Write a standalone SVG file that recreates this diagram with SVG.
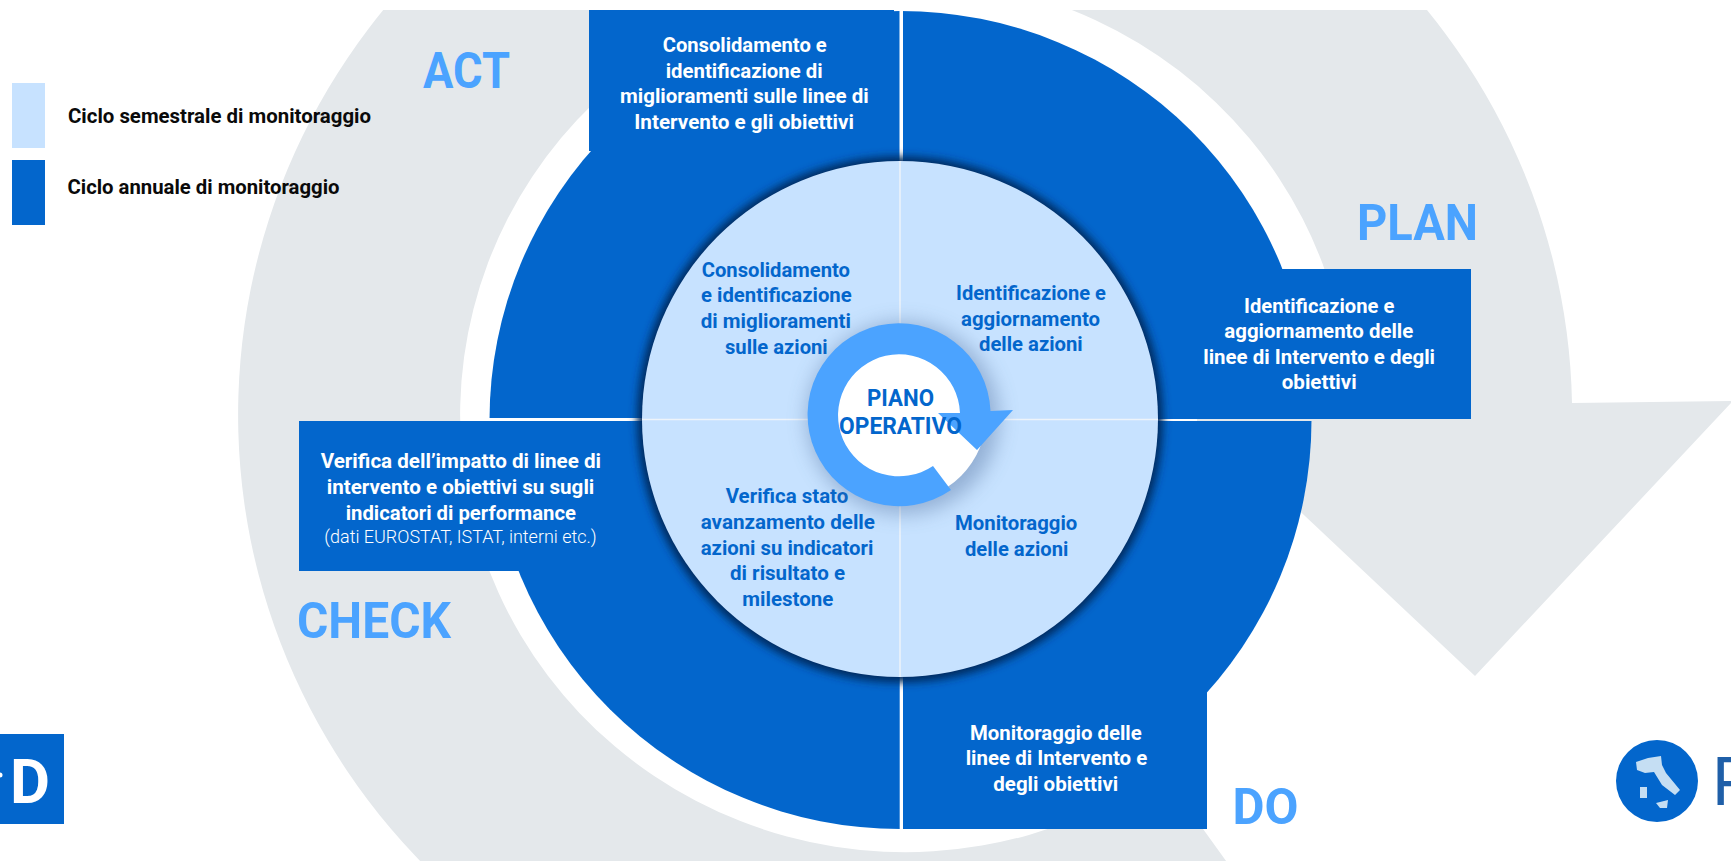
<svg xmlns="http://www.w3.org/2000/svg" width="1731" height="861" viewBox="0 0 1731 861">
<style>
text{font-family:"Roboto","Liberation Sans",sans-serif;font-weight:700;font-size:20.5px}
.w{fill:#fff}
.b{fill:#0366cc}
.k{fill:#0a0a0a;font-size:19.5px}
.h{fill:#4ba3ff;font-size:50.5px}
.l{fill:#fff;font-weight:300;font-size:18px}
.dark{fill:#0366cc}
.gap{fill:#fff}
</style>
<defs>
<clipPath id="page"><rect x="0" y="10" width="1731" height="851"/></clipPath>
<filter id="edge" x="-10%" y="-10%" width="120%" height="120%"><feGaussianBlur stdDeviation="4"/></filter>
<filter id="soft" x="-40%" y="-40%" width="180%" height="180%"><feGaussianBlur stdDeviation="10"/></filter>
</defs>
<rect width="1731" height="861" fill="#fff"/>
<g id="gray-cycle-arrow" clip-path="url(#page)">
<path fill="#e4e8eb" d="M1288,947 A667,650 0 1 1 1572,403 L1731,401 L1731,403 L1475,676 L1203,420 L1197,405 L1350,405 A445,437 0 1 0 1162,772 Z"/>
</g>
<g id="legend">
<rect x="12" y="83" width="33" height="65" fill="#c7e2ff"/>
<rect x="12" y="160" width="33" height="65" class="dark"/>
<text class="k" x="68" y="122.7" textLength="303" lengthAdjust="spacingAndGlyphs">Ciclo semestrale di monitoraggio</text>
<text class="k" x="67.5" y="194.3" textLength="272" lengthAdjust="spacingAndGlyphs">Ciclo annuale di monitoraggio</text>
</g>
<g id="outer-ring">
<ellipse cx="900.5" cy="420" rx="411" ry="409" class="dark"/>
<rect x="589" y="10" width="305" height="141" class="dark"/>
<rect x="1270" y="269" width="201" height="150" class="dark"/>
<rect x="903" y="690" width="304" height="139" class="dark"/>
<rect x="299" y="421" width="230" height="150" class="dark"/>
<rect x="899.5" y="10" width="3.5" height="152" class="gap"/>
<rect x="899.7" y="676" width="3.3" height="154" class="gap"/>
<rect x="489" y="418" width="155" height="3" class="gap"/>
<rect x="1156" y="419" width="41" height="2" class="gap"/>
<rect x="1197" y="419" width="116" height="2" fill="#e4e8eb"/>
</g>
<g id="inner-disc">
<circle cx="900" cy="419.5" r="263" fill="#002c5e" filter="url(#edge)"/>
<circle cx="900" cy="419" r="258" fill="#c7e2ff"/>
<path d="M900,161V677M642,419.5H1158" stroke="#eef4fa" stroke-width="1.5" fill="none"/>
</g>
<g id="act">
<text class="h" x="423" y="88.4" textLength="87" lengthAdjust="spacingAndGlyphs">ACT</text>
<text class="w" x="662.7" y="51.7" textLength="164" lengthAdjust="spacingAndGlyphs">Consolidamento e</text>
<text class="w" x="665.7" y="78.3" textLength="157" lengthAdjust="spacingAndGlyphs">identificazione di</text>
<text class="w" x="620" y="103.3" textLength="248.7" lengthAdjust="spacingAndGlyphs">miglioramenti sulle linee di</text>
<text class="w" x="634.3" y="129" textLength="219.7" lengthAdjust="spacingAndGlyphs">Intervento e gli obiettivi</text>
</g>
<g id="plan">
<text class="h" x="1357" y="240" textLength="121" lengthAdjust="spacingAndGlyphs">PLAN</text>
<text class="w" x="1244" y="312.7" textLength="150.3" lengthAdjust="spacingAndGlyphs">Identificazione e</text>
<text class="w" x="1224.3" y="338.3" textLength="189" lengthAdjust="spacingAndGlyphs">aggiornamento delle</text>
<text class="w" x="1203.3" y="364" textLength="231.7" lengthAdjust="spacingAndGlyphs">linee di Intervento e degli</text>
<text class="w" x="1281.7" y="389.3" textLength="75" lengthAdjust="spacingAndGlyphs">obiettivi</text>
</g>
<g id="do">
<text class="h" x="1232.5" y="824.3" textLength="66" lengthAdjust="spacingAndGlyphs">DO</text>
<text class="w" x="970" y="740" textLength="171.7" lengthAdjust="spacingAndGlyphs">Monitoraggio delle</text>
<text class="w" x="965.7" y="765" textLength="181.6" lengthAdjust="spacingAndGlyphs">linee di Intervento e</text>
<text class="w" x="993.3" y="790.7" textLength="125" lengthAdjust="spacingAndGlyphs">degli obiettivi</text>
</g>
<g id="check">
<text class="h" x="297" y="638.3" textLength="154" lengthAdjust="spacingAndGlyphs">CHECK</text>
<text class="w" x="320.7" y="468.3" textLength="280.3" lengthAdjust="spacingAndGlyphs">Verifica dell’impatto di linee di</text>
<text class="w" x="326.7" y="494.3" textLength="267.6" lengthAdjust="spacingAndGlyphs">intervento e obiettivi su sugli</text>
<text class="w" x="345.7" y="520" textLength="230.3" lengthAdjust="spacingAndGlyphs">indicatori di performance</text>
<text class="l" x="324.3" y="543.3" textLength="272.4" lengthAdjust="spacingAndGlyphs">(dati EUROSTAT, ISTAT, interni etc.)</text>
</g>
<g id="semester-act">
<text class="b" x="701.7" y="276.7" textLength="148.3" lengthAdjust="spacingAndGlyphs">Consolidamento</text>
<text class="b" x="701" y="301.7" textLength="150.7" lengthAdjust="spacingAndGlyphs">e identificazione</text>
<text class="b" x="700.7" y="328" textLength="150.3" lengthAdjust="spacingAndGlyphs">di miglioramenti</text>
<text class="b" x="725" y="354" textLength="102.7" lengthAdjust="spacingAndGlyphs">sulle azioni</text>
</g>
<g id="semester-plan">
<text class="b" x="956" y="300" textLength="150" lengthAdjust="spacingAndGlyphs">Identificazione e</text>
<text class="b" x="961" y="326" textLength="139" lengthAdjust="spacingAndGlyphs">aggiornamento</text>
<text class="b" x="979" y="350.7" textLength="103.7" lengthAdjust="spacingAndGlyphs">delle azioni</text>
</g>
<g id="semester-check">
<text class="b" x="725.7" y="502.7" textLength="122.6" lengthAdjust="spacingAndGlyphs">Verifica stato</text>
<text class="b" x="700.7" y="529" textLength="174.3" lengthAdjust="spacingAndGlyphs">avanzamento delle</text>
<text class="b" x="700.7" y="555" textLength="172.6" lengthAdjust="spacingAndGlyphs">azioni su indicatori</text>
<text class="b" x="730" y="580" textLength="115" lengthAdjust="spacingAndGlyphs">di risultato e</text>
<text class="b" x="742.3" y="605.7" textLength="91" lengthAdjust="spacingAndGlyphs">milestone</text>
</g>
<g id="semester-do">
<text class="b" x="955" y="530" textLength="122.3" lengthAdjust="spacingAndGlyphs">Monitoraggio</text>
<text class="b" x="965" y="556" textLength="103.3" lengthAdjust="spacingAndGlyphs">delle azioni</text>
</g>
<g id="center">
<circle cx="903" cy="418" r="96" fill="#3f5f90" opacity=".38" filter="url(#soft)"/>
<circle cx="899.5" cy="414.5" r="87" fill="#fff"/>
<path fill="#4ba3ff" d="M951,490 A91.5,91.5 0 1 1 990.5,411 L1013,410 L977,450 L938,413 L960,413 A61,61 0 1 0 933,466 Z"/>
<text class="b" x="867" y="406" style="font-size:23px" textLength="67" lengthAdjust="spacingAndGlyphs">PIANO</text>
<text class="b" x="839" y="434" style="font-size:23px" textLength="123" lengthAdjust="spacingAndGlyphs">OPERATIVO</text>
</g>
<g id="logo-left">
<rect x="0" y="734" width="64" height="90" class="dark"/>
<circle cx="0" cy="775" r="2.5" fill="#fff"/>
<text x="10" y="803" fill="#fff" style="font-size:61px" textLength="40" lengthAdjust="spacingAndGlyphs">D</text>
</g>
<g id="logo-right">
<circle cx="1657" cy="781" r="41" class="dark"/>
<path fill="#c5def3" d="M1636,762 L1648,758 L1661,756 L1662,765 L1666,773 L1680,790 L1675,795 L1662,785 L1654,772 L1645,773 L1637,770 Z M1640,787 H1647 V798 H1640 Z M1656,803 L1668,800 L1667,808 L1660,808 Z"/>
<text x="1712" y="805" fill="#1f5fa8" style="font-size:67px;font-weight:400">P</text>
</g>
</svg>
